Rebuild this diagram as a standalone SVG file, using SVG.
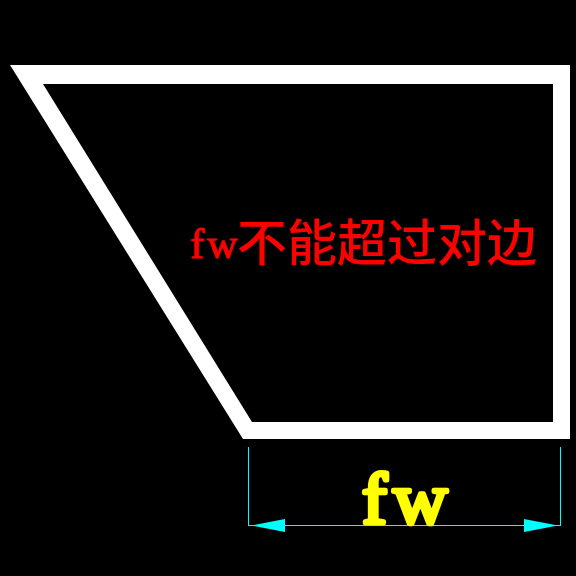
<svg xmlns="http://www.w3.org/2000/svg" width="576" height="576" viewBox="0 0 576 576">
<style>
.dim{stroke:#00ffff;stroke-width:1;fill:none;shape-rendering:crispEdges}
.head{fill:#00ffff}
.latin{font-family:"Liberation Serif",serif;stroke-linejoin:round}
.cjk{font-family:"Noto Sans CJK SC",sans-serif;font-size:50px;font-weight:500;fill:#ff0000}
</style>
<rect width="576" height="576" fill="#000000"/>
<g id="shape">
<path fill="#ffffff" fill-rule="evenodd" d="M10 65H570V439H243ZM43 84L252 422H553V84Z"/>
</g>
<g id="connectors">
<path class="dim" d="M248.500 447V525.500M560.500 447V525.500M248.500 525.500H560.500"/>
<polygon class="head" points="251,525.500 285,519 285,532"/>
<polygon class="head" points="558,525.500 524,519 524,532"/>
</g>
<g id="dimension-label">
<text class="latin" transform="translate(362 523) scale(1.04 1)" x="0 30" y="0" font-size="72" fill="#ffff00" stroke="#ffff00" stroke-width="4.500">fw</text>
</g>
<g id="note">
<text class="latin" x="190 207" y="258" font-size="42" fill="#ff0000" stroke="#ff0000" stroke-width="1">fw</text>
<text class="cjk" x="237" y="261">不能超过对边</text>
</g>
</svg>
